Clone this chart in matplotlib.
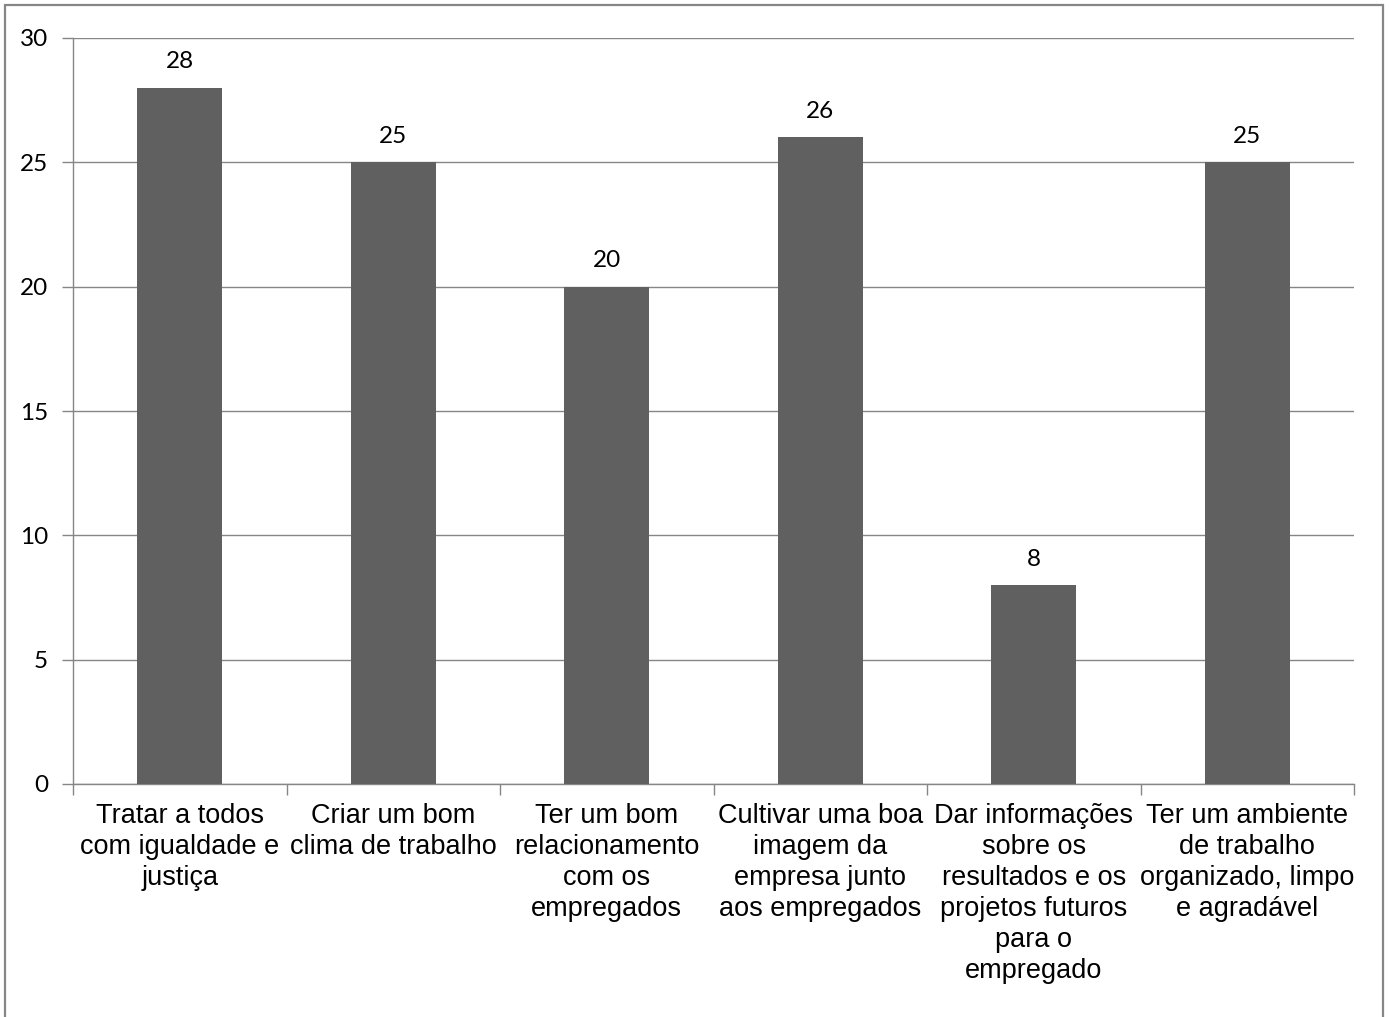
import matplotlib
matplotlib.use("Agg")
import matplotlib.pyplot as plt
from matplotlib.patches import Rectangle

categories = [
    "Tratar a todos\ncom igualdade e\njustiça",
    "Criar um bom\nclima de trabalho",
    "Ter um bom\nrelacionamento\ncom os\nempregados",
    "Cultivar uma boa\nimagem da\nempresa junto\naos empregados",
    "Dar informações\nsobre os\nresultados e os\nprojetos futuros\npara o\nempregado",
    "Ter um ambiente\nde trabalho\norganizado, limpo\ne agradável",
]
values = [28, 25, 20, 26, 8, 25]
yticks = [0, 5, 10, 15, 20, 25, 30]

W, H, DPI = 1389, 1017, 100
fig = plt.figure(figsize=(W / DPI, H / DPI), dpi=DPI)
fig.patch.set_facecolor("white")

# outer chart frame
fig.patches.append(Rectangle((5 / W, -0.01), (1383 - 5) / W, (H - 5) / H + 0.01,
                             transform=fig.transFigure, fill=False,
                             edgecolor="#868686", linewidth=1.6))

ax = fig.add_axes([73 / W, 1 - 784 / H, (1354 - 73) / W, (784 - 38) / H])
grid_c = "#868686"
x = list(range(len(values)))
ax.bar(x, values, width=0.4, color="#606060", zorder=3)

ax.set_xlim(-0.5, len(values) - 0.5)
ax.set_ylim(0, 30)
ax.set_yticks(yticks)
ax.set_yticklabels([str(t) for t in yticks], fontfamily="Lato", fontsize=17.5)
ax.yaxis.grid(True, color=grid_c, linewidth=1.0, zorder=0)
ax.tick_params(axis="y", length=8, width=1.0, color=grid_c, pad=10)

ax.set_xticks([i - 0.5 for i in range(len(values) + 1)], minor=True)
ax.set_xticks(x)
ax.set_xticklabels(categories, fontfamily="Liberation Sans", fontsize=19.5,
                   linespacing=1.25, va="top")
ax.tick_params(axis="x", which="major", length=0, pad=14)
ax.tick_params(axis="x", which="minor", length=8, width=1.0, color=grid_c)

for s in ["top", "right"]:
    ax.spines[s].set_visible(False)
for s in ["left", "bottom"]:
    ax.spines[s].set_color(grid_c)
    ax.spines[s].set_linewidth(1.0)

for xi, v in zip(x, values):
    ax.annotate(str(v), (xi, v), xytext=(0, 11), textcoords="offset points",
                ha="center", va="bottom", fontfamily="Lato", fontsize=17.5)

fig.savefig("out.png", dpi=DPI)
